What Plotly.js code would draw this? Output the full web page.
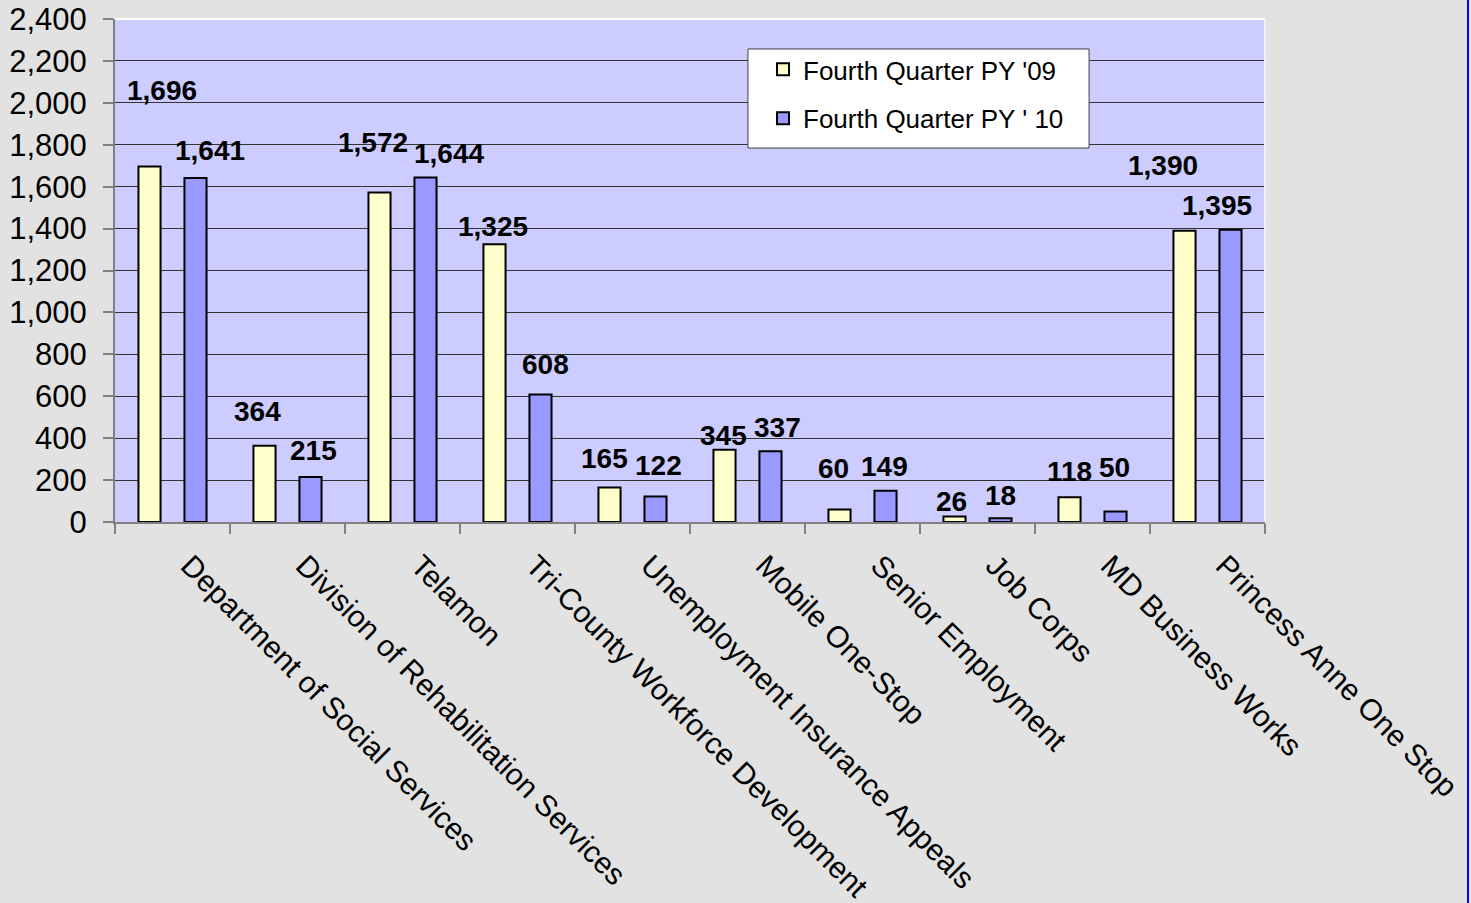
<!DOCTYPE html>
<html>
<head>
<meta charset="utf-8">
<script src="https://cdn.plot.ly/plotly-3.0.1.min.js"></script>
<style>
html,body{margin:0;padding:0;background:#e2e2e2;}
#chart{width:1471px;height:903px;}
</style>
</head>
<body>
<div id="chart"></div>
<script>
// ---- data ----
const categories = [
  "Department of Social Services",
  "Division of Rehabilitation Services",
  "Telamon",
  "Tri-County Workforce Development",
  "Unemployment Insurance Appeals",
  "Mobile One-Stop",
  "Senior Employment",
  "Job Corps",
  "MD Business Works",
  "Princess Anne One Stop"
];
const seriesNames = ["Fourth Quarter PY '09", "Fourth Quarter PY ' 10"];
const values09 = [1696, 364, 1572, 1325, 165, 345, 60, 26, 118, 1390];
const values10 = [1641, 215, 1644, 608, 122, 337, 149, 18, 50, 1395];
const yTickValues = [0,200,400,600,800,1000,1200,1400,1600,1800,2000,2200,2400];

// label offsets (pixels, relative to bar top) – style only
const labelShift09 = [[12,76],[-7,34],[-7,50],[-2,18],[-5,29],[-1,14],[-6,41],[-3,15],[0,26],[-22,65]];
const labelShift10 = [[14,28],[3,26],[23,24],[5,30],[3,31],[7,24],[-1,24],[0,23],[-1,44],[-14,24]];

const FONT = "Liberation Sans, Arial, sans-serif";

const traces = [
  {
    type: "bar", name: seriesNames[0], x: categories, y: values09,
    legendgroup: "a",
    marker: {color: "#FFFFCC", line: {color: "#000000", width: 2}},
    hoverinfo: "y"
  },
  {
    type: "bar", name: seriesNames[1], x: categories, y: values10,
    legendgroup: "b",
    marker: {color: "#9999FF", line: {color: "#000000", width: 2}},
    hoverinfo: "y"
  }
];

const fmt = v => v.toLocaleString("en-US");
const annotations = [];
values09.forEach((v, i) => {
  annotations.push({
    x: i - 0.2, y: v, xref: "x", yref: "y", text: fmt(v), showarrow: false,
    xanchor: "center", yanchor: "middle",
    xshift: labelShift09[i][0], yshift: labelShift09[i][1],
    font: {family: FONT, size: 28, color: "#000", weight: "bold"}
  });
});
values10.forEach((v, i) => {
  annotations.push({
    x: i + 0.2, y: v, xref: "x", yref: "y", text: fmt(v), showarrow: false,
    xanchor: "center", yanchor: "middle",
    xshift: labelShift10[i][0], yshift: labelShift10[i][1],
    font: {family: FONT, size: 28, color: "#000", weight: "bold"}
  });
});

const layout = {
  width: 1471, height: 903,
  margin: {l: 115, r: 206, t: 19, b: 381, pad: 0},
  paper_bgcolor: "#e2e2e2",
  plot_bgcolor: "#CCCCFF",
  barmode: "group",
  bargap: 0.2,
  bargroupgap: 0.52,
  showlegend: true,
  legend: {
    x: 0.5635, y: 0.9464, xanchor: "left", yanchor: "top",
    bgcolor: "rgba(0,0,0,0)", borderwidth: 0,
    font: {family: FONT, size: 26, color: "#000"},
    tracegroupgap: 12,
    traceorder: "grouped"
  },
  xaxis: {
    type: "category",
    tickangle: 45,
    tickson: "boundaries",
    ticks: "outside", ticklen: 10, tickcolor: "#808080", tickwidth: 2,
    showline: true, linecolor: "#808080", linewidth: 2,
    showgrid: false,
    ticklabelstandoff: 12,
    ticklabelshift: 17,
    tickfont: {family: FONT, size: 30, color: "#000"},
    automargin: false
  },
  yaxis: {
    range: [0, 2400],
    tickvals: yTickValues,
    ticktext: yTickValues.map(fmt),
    ticks: "outside", ticklen: 10, tickcolor: "#808080", tickwidth: 2,
    showline: true, linecolor: "#808080", linewidth: 2,
    showgrid: true, gridcolor: "#333333", gridwidth: 1,
    zeroline: false,
    ticklabelstandoff: 10,
    tickfont: {family: FONT, size: 31, color: "#000"},
    automargin: false
  },
  annotations: annotations,
  shapes: [
    {type: "line", xref: "paper", yref: "paper", x0: 0, x1: 1, y0: 1, y1: 1,
     line: {color: "#FFFFFF", width: 2}, layer: "above"},
    {type: "line", xref: "paper", yref: "paper", x0: 1, x1: 1, y0: 0, y1: 1,
     line: {color: "#EEEEFF", width: 2}, layer: "above"},
    {type: "rect", xref: "paper", yref: "paper", x0: 0.5504, x1: 0.8470, y0: 0.7435, y1: 0.9404,
     fillcolor: "#FFFFFF", line: {color: "#404040", width: 1}, layer: "above"},
    {type: "line", xref: "paper", yref: "paper", x0: 1.1765, x1: 1.1765, y0: -0.76, y1: 1.04,
     line: {color: "#0000FF", width: 2}, layer: "above"}
  ]
};

Plotly.newPlot("chart", traces, layout, {displayModeBar: false, staticPlot: true});
</script>
</body>
</html>
